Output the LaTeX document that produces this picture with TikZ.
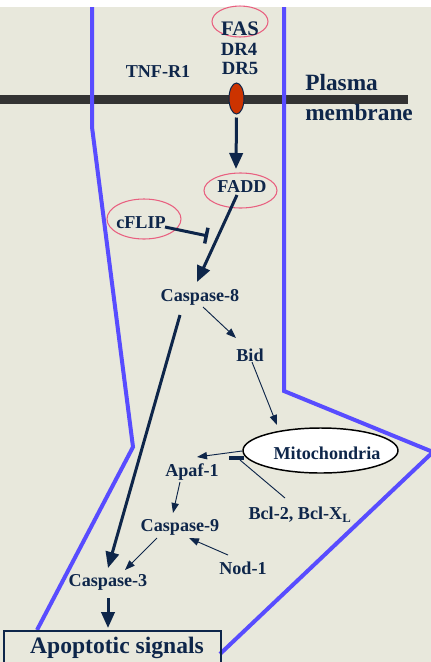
\documentclass[tikz,border=0pt]{standalone}
\usepackage{fontspec}
\setmainfont{Liberation Serif}
\usetikzlibrary{arrows.meta,shapes.geometric,calc}
\definecolor{paper}{RGB}{232,232,220}
\definecolor{navy}{RGB}{14,38,74}
\definecolor{ringpink}{RGB}{232,96,128}
\definecolor{violetblue}{RGB}{88,76,255}
\definecolor{membranegray}{RGB}{51,51,51}
\definecolor{receptorred}{RGB}{204,51,0}
\begin{document}
\begin{tikzpicture}[x=0.75pt,y=-0.75pt,
  lbl/.style={text=navy, inner sep=0pt, font=\bfseries\fontsize{13.6}{15}\selectfont},
  biglbl/.style={text=navy, inner sep=0pt, font=\bfseries\fontsize{17.5}{20}\selectfont},
  ring/.style={draw=ringpink, line width=0.8pt, ellipse, inner sep=0pt},
  thickarrow/.style={draw=navy, line width=2.25pt, -{Triangle[length=12pt,width=10pt]}},
  thinarrow/.style={draw=navy, line width=0.7pt, -{Triangle[length=7.5pt,width=5.5pt]}},
  inhibit/.style={draw=navy, line width=2.25pt, -{Bar[width=12pt,line width=2.6pt]}},
  thinline/.style={draw=navy, line width=0.7pt},
  boundary/.style={draw=violetblue, line width=3pt, line join=miter}
]
\useasboundingbox (0,0) rectangle (431,662);
% backdrop
\fill[white] (0,0) rectangle (431,7);
\fill[paper] (0,7) rectangle (431,662);

% plasma membrane
\fill[membranegray] (0,95) rectangle (408,104);

% compartment boundaries
\draw[boundary] (92,7) -- (92,127) -- (133,447) -- (37,630);
\draw[boundary] (284,7) -- (284,391) -- (433,452) -- (220,654);

% receptors
\node[ring, minimum width=42pt, minimum height=23.25pt] (fasring) at (240,21.5) {};
\node[lbl, font=\bfseries\fontsize{15.5}{17}\selectfont] (fas) at (240,29) {FAS};
\node[lbl, font=\bfseries\fontsize{14}{16}\selectfont] (dr4) at (239,49) {DR4};
\node[lbl, font=\bfseries\fontsize{14}{16}\selectfont] (dr5) at (240,68) {DR5};
\node[lbl] (tnf) at (158,72) {TNF-R1};
\node[ellipse, draw=navy, line width=0.75pt, fill=receptorred, inner sep=0pt,
      minimum width=11.25pt, minimum height=23.25pt] (rec) at (236.5,98.5) {};
\node[biglbl, anchor=west] (plasma) at (305,83) {Plasma};
\node[biglbl, anchor=west] (membr) at (305,113) {membrane};

% adaptor and regulator
\node[ring, minimum width=54.75pt, minimum height=26.25pt] (faddring) at (240.5,190.5) {};
\node[lbl] (fadd) at (242,187) {FADD};
\node[ring, minimum width=55.5pt, minimum height=30pt] (cflipring) at (144,219) {};
\node[lbl] (cflip) at (141,223) {cFLIP};

% caspase cascade
\node[lbl] (casp8) at (200,297) {Caspase-8};
\node[lbl] (bid) at (250,355) {Bid};
\node[ellipse, draw=black, line width=1.1pt, fill=white, inner sep=0pt,
      minimum width=116.25pt, minimum height=33.75pt] (mito) at (320.5,450.5) {};
\node[lbl] (mitotext) at (327,453) {Mitochondria};
\node[lbl] (apaf) at (192,472) {Apaf-1};
\node[lbl] (bcl) at (300,515) {Bcl-2, Bcl-X\textsubscript{L}};
\node[lbl] (casp9) at (180,527) {Caspase-9};
\node[lbl] (nod) at (243,568) {Nod-1};
\node[lbl] (casp3) at (108,582) {Caspase-3};
\node[draw=navy, line width=1.6pt, anchor=north west, inner sep=0pt,
      minimum width=162.75pt, minimum height=36pt] (box) at (3,630) {};
\node[biglbl, font=\bfseries\fontsize{17.7}{20}\selectfont] (apop) at (117,647.5) {Apoptotic signals};

% connectors
\draw[thickarrow] ($(rec.south)+(0,3)$) -- ($(fadd)+(-6,-18)$);
\draw[thickarrow] ($(fadd)+(-5,8)$) -- ($(casp8)+(-3,-15)$);
\draw[inhibit] ($(cflip)+(24,4)$) -- ($(cflip)+(67,13)$);
\draw[thinarrow] ($(casp8)+(3,10)$) -- ($(bid)+(-14,-17)$);
\draw[thinarrow] ($(bid)+(2,7)$) -- ($(mito)+(-43.5,-25.5)$);
\draw[thinarrow] ($(mito)+(-78.5,0.5)$) -- ($(apaf)+(5,-15)$);
\draw[thinline] ($(bcl)+(-15,-17)$) -- ($(mito)+(-80.5,9.5)$);
\draw[navy, line width=2.8pt] ($(mito)+(-91.5,7.5)$) -- ($(mito)+(-76.5,7.5)$);
\draw[thinarrow] ($(apaf)+(-12,10)$) -- ($(casp9)+(-7,-14)$);
\draw[thinarrow] ($(nod)+(-15,-13)$) -- ($(casp9)+(9,11)$);
\draw[thinarrow] ($(casp9)+(-23,11)$) -- ($(casp3)+(17,-12)$);
\draw[thickarrow] ($(casp8)+(-20,18)$) -- ($(casp3)+(0,-14)$);
\draw[thickarrow] ($(casp3)+(0,16)$) -- ($(box.north west)+(105,-2)$);
\end{tikzpicture}
\end{document}
